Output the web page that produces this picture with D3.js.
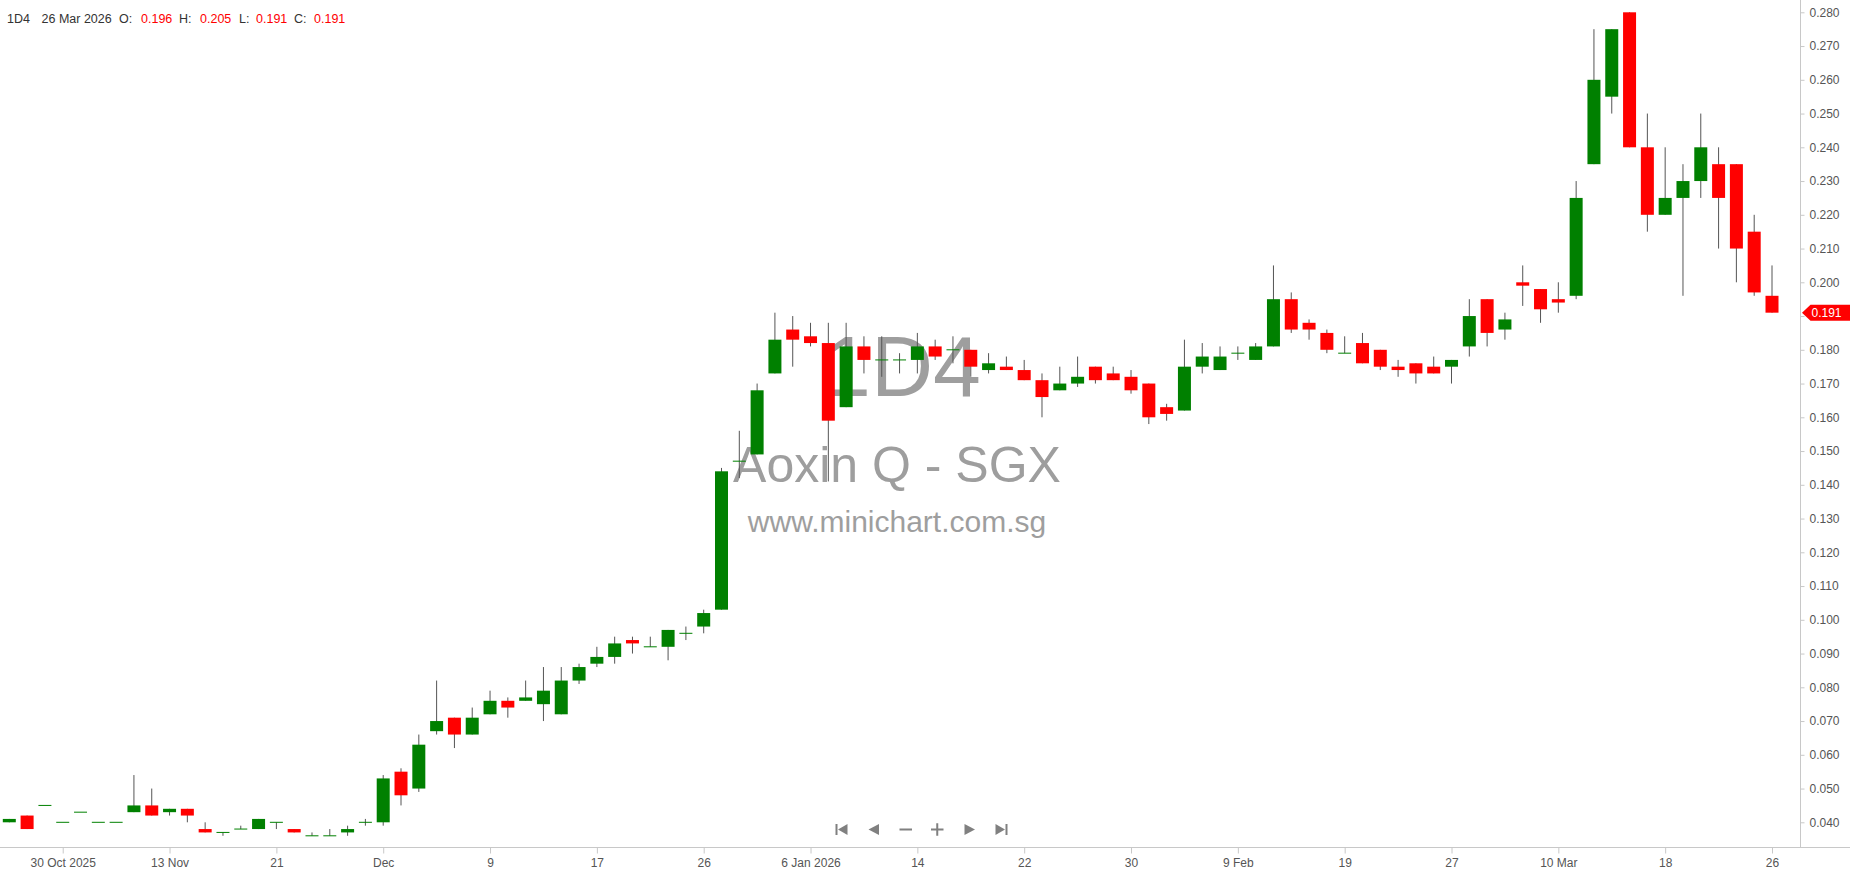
<!DOCTYPE html>
<html><head><meta charset="utf-8">
<script src="https://cdn.jsdelivr.net/npm/d3@7"></script>
<style>
html,body{margin:0;padding:0;background:#fff;}
svg{display:block;font-family:"Liberation Sans",Arial,sans-serif;}
</style></head>
<body>
<script>
// ---- data (daily candles, oldest first) ----
const opens  = [0.040,0.042,0.045,0.040,0.043,0.040,0.040,0.043,0.045,0.043,
                0.044,0.038,0.037,0.038,0.038,0.040,0.038,0.036,0.036,0.037,
                0.040,0.040,0.055,0.050,0.067,0.071,0.066,0.072,0.076,0.076,
                0.075,0.072,0.082,0.087,0.089,0.094,0.092,0.092,0.096,0.098,
                0.103,0.147,0.149,0.173,0.186,0.184,0.182,0.163,0.181,0.177,
                0.177,0.177,0.181,0.180,0.180,0.174,0.175,0.174,0.171,0.168,
                0.170,0.175,0.173,0.172,0.170,0.163,0.162,0.175,0.174,0.179,
                0.177,0.181,0.195,0.188,0.185,0.179,0.182,0.180,0.175,0.176,
                0.175,0.175,0.181,0.195,0.186,0.200,0.198,0.195,0.196,0.235,
                0.255,0.280,0.240,0.220,0.225,0.230,0.235,0.235,0.215,0.196];
const highs  = [0.041,0.042,0.045,0.040,0.043,0.040,0.040,0.054,0.050,0.044,
                0.044,0.040,0.037,0.039,0.041,0.040,0.038,0.037,0.038,0.039,
                0.041,0.054,0.056,0.066,0.082,0.071,0.074,0.079,0.077,0.082,
                0.086,0.086,0.087,0.092,0.095,0.095,0.095,0.097,0.098,0.103,
                0.145,0.156,0.170,0.191,0.190,0.188,0.188,0.188,0.184,0.184,
                0.179,0.185,0.183,0.184,0.180,0.179,0.178,0.177,0.173,0.175,
                0.178,0.175,0.175,0.174,0.170,0.164,0.183,0.182,0.181,0.181,
                0.182,0.205,0.197,0.189,0.186,0.184,0.185,0.180,0.177,0.176,
                0.178,0.177,0.195,0.195,0.191,0.205,0.198,0.200,0.230,0.275,
                0.275,0.280,0.250,0.240,0.235,0.250,0.240,0.235,0.220,0.205];
const lows   = [0.040,0.038,0.045,0.040,0.043,0.040,0.040,0.043,0.042,0.042,
                0.040,0.037,0.036,0.038,0.038,0.038,0.037,0.036,0.036,0.036,
                0.039,0.039,0.045,0.049,0.066,0.062,0.066,0.072,0.071,0.076,
                0.070,0.072,0.081,0.086,0.087,0.090,0.092,0.088,0.094,0.096,
                0.103,0.142,0.149,0.173,0.175,0.181,0.141,0.163,0.173,0.172,
                0.173,0.173,0.177,0.176,0.172,0.173,0.174,0.171,0.160,0.168,
                0.169,0.170,0.171,0.167,0.158,0.159,0.162,0.173,0.174,0.177,
                0.177,0.181,0.185,0.183,0.179,0.179,0.176,0.174,0.172,0.170,
                0.173,0.170,0.178,0.181,0.183,0.193,0.188,0.191,0.195,0.235,
                0.250,0.240,0.215,0.220,0.196,0.225,0.210,0.200,0.196,0.191];
const closes = [0.041,0.038,0.045,0.040,0.043,0.040,0.040,0.045,0.042,0.044,
                0.042,0.037,0.037,0.038,0.041,0.040,0.037,0.036,0.036,0.038,
                0.040,0.053,0.048,0.063,0.070,0.066,0.071,0.076,0.074,0.077,
                0.079,0.082,0.086,0.089,0.093,0.093,0.092,0.097,0.096,0.102,
                0.144,0.147,0.168,0.183,0.183,0.182,0.159,0.181,0.177,0.177,
                0.177,0.181,0.178,0.180,0.175,0.176,0.174,0.171,0.166,0.170,
                0.172,0.171,0.171,0.168,0.160,0.161,0.175,0.178,0.178,0.179,
                0.181,0.195,0.186,0.186,0.180,0.179,0.176,0.175,0.174,0.173,
                0.173,0.177,0.190,0.185,0.189,0.199,0.192,0.194,0.225,0.260,
                0.275,0.240,0.220,0.225,0.230,0.240,0.225,0.210,0.197,0.191];
// x-axis labels, one every 6 sessions starting at the 4th session
const tickLabels = ["30 Oct 2025","13 Nov","21","Dec","9","17","26","6 Jan 2026","14","22","30","9 Feb","19","27","10 Mar","18","26"];
const priceTicks = [0.04,0.05,0.06,0.07,0.08,0.09,0.10,0.11,0.12,0.13,0.14,0.15,0.16,0.17,0.18,0.19,0.20,0.21,0.22,0.23,0.24,0.25,0.26,0.27,0.28];
const header = {code:"1D4", date:"26 Mar 2026"};
const watermark = ["1D4","Aoxin Q - SGX","www.minichart.com.sg"];

// ---- layout ----
const W = 1850, H = 874;
const plotRight = 1800.5, axisY = 847.5;
const n = opens.length;
const candles = d3.range(n).map(i => ({i, o:opens[i], h:highs[i], l:lows[i], c:closes[i]}));

const x = d3.scaleLinear().domain([0, n-1]).range([9.3, 1772]);
const y = d3.scaleLinear().domain([0.04, 0.28]).range([822.3, 12.3]);
const bodyW = 13;

const svg = d3.select("body").append("svg").attr("width", W).attr("height", H);

// watermark
const wm = svg.append("g").attr("fill", "#9e9e9e").attr("text-anchor", "middle");
wm.append("text").attr("x", 902).attr("y", 396).attr("font-size", 86).text(watermark[0]);
wm.append("text").attr("x", 897).attr("y", 482).attr("font-size", 50).text(watermark[1]);
wm.append("text").attr("x", 897).attr("y", 532).attr("font-size", 30).text(watermark[2]);

// axes lines
svg.append("line").attr("x1", 0).attr("x2", W).attr("y1", axisY).attr("y2", axisY).attr("stroke", "#c8c8c8");
svg.append("line").attr("x1", plotRight).attr("x2", plotRight).attr("y1", 0).attr("y2", axisY).attr("stroke", "#c8c8c8");

// y axis
const yAxis = d3.axisRight(y).tickValues(priceTicks).tickFormat(d3.format(".3f")).tickSize(4).tickPadding(5);
const gy = svg.append("g").attr("transform", `translate(${plotRight},0)`).call(yAxis);
gy.select(".domain").remove();
gy.selectAll(".tick line").attr("stroke", "#c8c8c8");
gy.selectAll(".tick text").attr("fill", "#555").attr("font-size", 12).attr("font-family", "Liberation Sans, Arial, sans-serif");

// x axis
const tickIdx = tickLabels.map((_, k) => 3 + 6*k);
const xAxis = d3.axisBottom(x).tickValues(tickIdx).tickFormat((d, k) => tickLabels[k]).tickSize(6).tickPadding(5);
const gx = svg.append("g").attr("transform", `translate(0,${axisY})`).call(xAxis);
gx.select(".domain").remove();
gx.selectAll(".tick line").attr("stroke", "#c8c8c8");
gx.selectAll(".tick text").attr("fill", "#555").attr("font-size", 12).attr("font-family", "Liberation Sans, Arial, sans-serif");

// candles
const cg = svg.append("g");
cg.selectAll("line.wick").data(candles).join("line").attr("class", "wick")
  .attr("x1", d => x(d.i)).attr("x2", d => x(d.i))
  .attr("y1", d => y(d.h)).attr("y2", d => y(d.l))
  .attr("stroke", "#555").attr("stroke-width", 1);
cg.selectAll("rect.body").data(candles).join("rect").attr("class", "body")
  .attr("x", d => x(d.i) - bodyW/2).attr("width", bodyW)
  .attr("y", d => y(Math.max(d.o, d.c)) - (d.o === d.c ? 0.5 : 0))
  .attr("height", d => Math.max(1, Math.abs(y(d.o) - y(d.c))))
  .attr("fill", d => d.c >= d.o ? "#008000" : "#ff0000");

// last price tag
const last = candles[n-1];
const ty = y(last.c);
svg.append("path")
  .attr("d", `M${plotRight+1.5},${ty} L${plotRight+10},${ty-8} L${W},${ty-8} L${W},${ty+8} L${plotRight+10},${ty+8} Z`)
  .attr("fill", "#ff0000");
svg.append("text").attr("x", plotRight + 11).attr("y", ty + 4.5).attr("fill", "#fff")
  .attr("font-size", 12).text(d3.format(".3f")(last.c));

// header
const hdr = svg.append("g").attr("font-size", 12.5);
const hy = 23;
hdr.append("text").attr("x", 7).attr("y", hy).attr("fill", "#333").text(header.code);
hdr.append("text").attr("x", 41.5).attr("y", hy).attr("fill", "#333").text(header.date);
const fmt = d3.format(".3f");
const parts = [["O:", last.o, 119, 141], ["H:", last.h, 179, 200], ["L:", last.l, 239, 256], ["C:", last.c, 294, 314]];
parts.forEach(p => {
  hdr.append("text").attr("x", p[2]).attr("y", hy).attr("fill", "#333").text(p[0]);
  hdr.append("text").attr("x", p[3]).attr("y", hy).attr("fill", "#ff0000").text(fmt(p[1]));
});

// navigation icons
const nav = svg.append("g").attr("fill", "#808080");
const cy = 829.5;
// first
nav.append("rect").attr("x", 835.5).attr("y", cy-5.5).attr("width", 2).attr("height", 11);
nav.append("path").attr("d", `M838,${cy} L847.5,${cy-5.5} L847.5,${cy+5.5} Z`);
// prev
nav.append("path").attr("d", `M868.5,${cy} L879,${cy-5.5} L879,${cy+5.5} Z`);
// minus
nav.append("rect").attr("x", 899.5).attr("y", cy-1).attr("width", 12.5).attr("height", 2);
// plus
nav.append("rect").attr("x", 931).attr("y", cy-1).attr("width", 12.5).attr("height", 2);
nav.append("rect").attr("x", 936.25).attr("y", cy-6.25).attr("width", 2).attr("height", 12.5);
// next
nav.append("path").attr("d", `M975,${cy} L964.5,${cy-5.5} L964.5,${cy+5.5} Z`);
// last
nav.append("path").attr("d", `M1005,${cy} L995.5,${cy-5.5} L995.5,${cy+5.5} Z`);
nav.append("rect").attr("x", 1005.5).attr("y", cy-5.5).attr("width", 2).attr("height", 11);
</script>
</body></html>
